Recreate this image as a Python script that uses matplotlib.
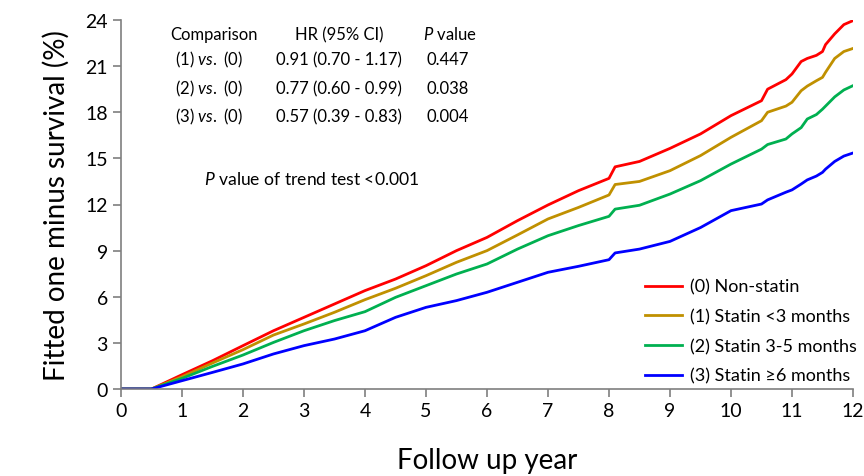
import matplotlib
matplotlib.use("Agg")
import matplotlib.pyplot as plt

plt.rcParams['font.family'] = ['Lato', 'DejaVu Sans']
plt.rcParams['mathtext.fontset'] = 'custom'
plt.rcParams['mathtext.rm'] = 'Lato'
plt.rcParams['mathtext.it'] = 'Lato:italic'

# follow-up years and fitted one minus survival (%)
years = [0, 0.5, 1, 1.5, 2, 2.5, 3, 3.5, 4, 4.5, 5, 5.5, 6, 6.5, 7, 7.5, 8, 8.1,
         8.5, 9, 9.5, 10, 10.5, 10.6, 10.9, 11, 11.15, 11.25, 11.4, 11.5, 11.55,
         11.7, 11.85, 12]
non_statin = [0, 0, 0.93, 1.84, 2.82, 3.79, 4.66, 5.53, 6.4, 7.15, 8.02, 9.0, 9.86,
              10.95, 11.97, 12.9, 13.7, 14.45, 14.8, 15.65, 16.59, 17.78, 18.75,
              19.5, 20.12, 20.49, 21.3, 21.5, 21.7, 21.95, 22.4, 23.1, 23.7, 23.96]
statin_lt3 = [0, 0, 0.8, 1.69, 2.56, 3.51, 4.23, 4.99, 5.81, 6.55, 7.37, 8.24, 9.0,
              10.02, 11.06, 11.81, 12.62, 13.3, 13.5, 14.2, 15.18, 16.37, 17.45,
              18.0, 18.4, 18.65, 19.4, 19.7, 20.05, 20.27, 20.6, 21.5, 21.95, 22.15]
statin_3_5 = [0, 0, 0.69, 1.47, 2.21, 3.03, 3.79, 4.45, 5.03, 5.96, 6.72, 7.48, 8.13,
              9.1, 9.97, 10.63, 11.23, 11.7, 11.95, 12.68, 13.55, 14.63, 15.6,
              15.9, 16.26, 16.59, 17.0, 17.56, 17.85, 18.2, 18.4, 19.0, 19.45, 19.73]
statin_ge6 = [0, 0, 0.54, 1.08, 1.63, 2.28, 2.82, 3.25, 3.79, 4.66, 5.31, 5.75, 6.29,
              6.94, 7.59, 7.98, 8.41, 8.85, 9.1, 9.6, 10.5, 11.6, 12.03, 12.3, 12.8,
              12.95, 13.33, 13.6, 13.85, 14.09, 14.3, 14.8, 15.15, 15.35]

labels = ['(0) Non-statin', '(1) Statin <3 months', '(2) Statin 3-5 months',
          '(3) Statin \u22656 months']
colors = ['#FF0000', '#C09000', '#00B050', '#0000FF']

comparisons = [r'$\mathrm{(1)}\ \it{vs.}\ \mathrm{(0)}$',
               r'$\mathrm{(2)}\ \it{vs.}\ \mathrm{(0)}$',
               r'$\mathrm{(3)}\ \it{vs.}\ \mathrm{(0)}$']
hrs = ['0.91 (0.70 - 1.17)', '0.77 (0.60 - 0.99)', '0.57 (0.39 - 0.83)']
pvals = ['0.447', '0.038', '0.004']

fig = plt.figure(figsize=(8.64, 4.77), dpi=100)
ax = fig.add_axes([121/864, 1 - 390/477, (853-121)/864, (390-21)/477])

for ys, lab, col in zip([non_statin, statin_lt3, statin_3_5, statin_ge6], labels, colors):
    ax.plot(years, ys, color=col, lw=2.0, label=lab, solid_joinstyle='round')

ax.set_xlim(0, 12)
ax.set_ylim(0, 24)
ax.set_xticks(range(0, 13))
ax.set_yticks(range(0, 25, 3))
for s in ['top', 'right']:
    ax.spines[s].set_visible(False)
for s in ['left', 'bottom']:
    ax.spines[s].set_color('#7f7f7f')
    ax.spines[s].set_linewidth(1.2)
ax.tick_params(colors='#7f7f7f', labelcolor='black', labelsize=14, length=6, width=1.2)
ax.set_xlabel('Follow up year', fontsize=20, labelpad=20)
ax.set_ylabel('Fitted one minus survival (%)', fontsize=20, labelpad=11)

# HR table
tfs = 12
row_y = [21.46, 19.58, 17.76]
ax.text(1.53, 23.09, 'Comparison', ha='center', va='center', fontsize=tfs)
ax.text(3.58, 23.09, 'HR (95% CI)', ha='center', va='center', fontsize=tfs)
ax.text(5.4, 23.09, r'$\it{P}$ value', ha='center', va='center', fontsize=tfs)
for y, c, h, p in zip(row_y, comparisons, hrs, pvals):
    ax.text(1.45, y, c, ha='center', va='center', fontsize=tfs)
    ax.text(3.57, y, h, ha='center', va='center', fontsize=tfs)
    ax.text(5.35, y, p, ha='center', va='center', fontsize=tfs)
ax.text(1.36, 13.66, r'$\it{P}$ value of trend test <0.001', ha='left', va='center',
        fontsize=12.6)

ax.legend(loc='lower right', bbox_to_anchor=(1.028, -0.03), frameon=False, fontsize=13,
          handlelength=2.05, labelspacing=0.75, handletextpad=0.45)

fig.savefig('out.png', dpi=100)
